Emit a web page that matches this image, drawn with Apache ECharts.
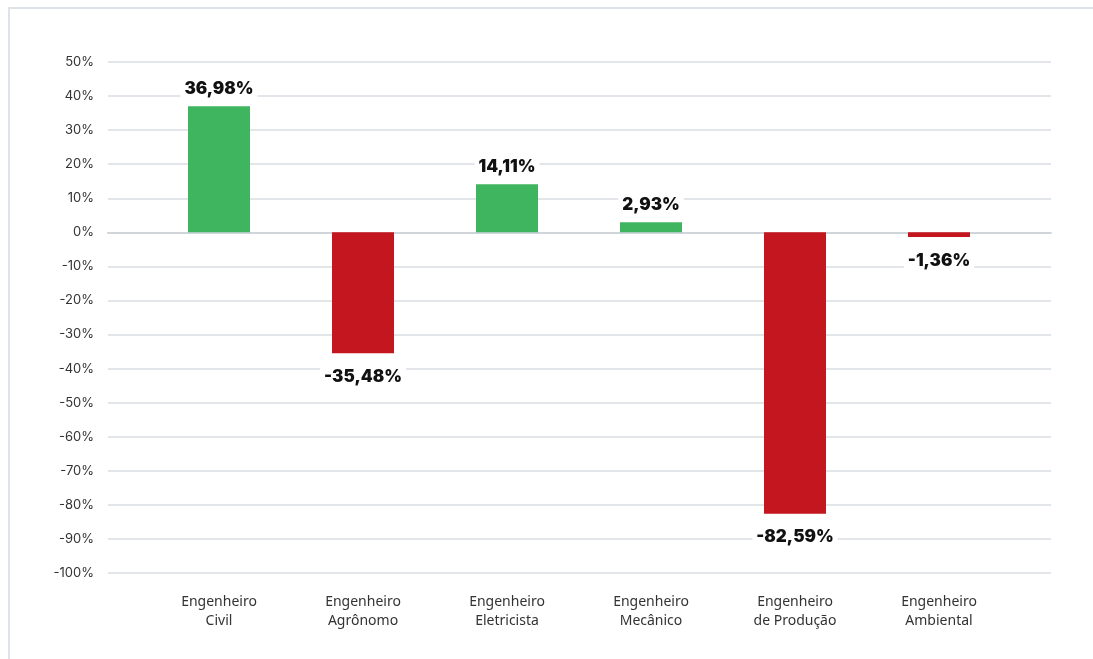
<!DOCTYPE html>
<html>
<head>
<meta charset="utf-8">
<script src="https://cdn.jsdelivr.net/npm/echarts@6/dist/echarts.min.js"></script>
<style>
  html, body { margin: 0; padding: 0; background: #ffffff; }
  #chart { width: 1093px; height: 659px; }
</style>
</head>
<body>
<div id="chart"></div>
<script>
// Variação percentual por profissão de engenharia
const categories = [
  'Engenheiro\nCivil',
  'Engenheiro\nAgrônomo',
  'Engenheiro\nEletricista',
  'Engenheiro\nMecânico',
  'Engenheiro\nde Produção',
  'Engenheiro\nAmbiental'
];
const variation = [36.98, -35.48, 14.11, 2.93, -82.59, -1.36];

const yMin = -100;
const yMax = 50;
const yStep = 10;

const GREEN = '#3fb55f';
const RED = '#c4161e';

const fmtPct = v => v.toFixed(2).replace('.', ',') + '%';

const barData = variation.map(v => ({
  value: v,
  itemStyle: { color: v >= 0 ? GREEN : RED },
  label: { position: v >= 0 ? 'top' : 'bottom', distance: v >= 0 ? 8 : 14 }
}));

const chart = echarts.init(document.getElementById('chart'), null, { renderer: 'canvas' });

chart.setOption({
  animation: false,
  backgroundColor: '#ffffff',
  graphic: [{
    type: 'rect',
    shape: { x: 9, y: 8, width: 1200, height: 800 },
    style: { fill: 'none', stroke: '#dde3e8', lineWidth: 2 },
    silent: true,
    z: -10
  }],
  grid: [
    // full-width grid carrying the value scale and its gridlines
    { left: 108, right: 42, top: 62, bottom: 86 },
    // narrower grid where the category bars sit
    { left: 147, right: 82, top: 62, bottom: 86 }
  ],
  xAxis: [
    {
      gridIndex: 0,
      type: 'value',
      min: 0, max: 1,
      axisLine: { show: true, onZero: true, lineStyle: { color: '#cfd5da', width: 2 } },
      axisTick: { show: false },
      axisLabel: { show: false },
      splitLine: { show: false }
    },
    {
      gridIndex: 1,
      type: 'category',
      data: categories,
      axisLine: { show: false },
      axisTick: { show: false },
      axisLabel: {
        margin: 20,
        color: '#333333',
        fontFamily: 'Noto Sans',
        fontSize: 14,
        lineHeight: 19
      }
    }
  ],
  yAxis: [
    {
      gridIndex: 0,
      type: 'value',
      min: yMin, max: yMax, interval: yStep,
      axisLine: { show: false },
      axisTick: { show: false },
      axisLabel: {
        margin: 14,
        color: '#333333',
        fontFamily: 'Inter',
        fontSize: 13,
        formatter: v => v + '%'
      },
      splitLine: { lineStyle: { color: '#d8dde2', width: 1.5 } }
    },
    {
      gridIndex: 1,
      type: 'value',
      min: yMin, max: yMax, interval: yStep,
      axisLine: { show: false },
      axisTick: { show: false },
      axisLabel: { show: false },
      splitLine: { show: false }
    }
  ],
  series: [{
    type: 'bar',
    xAxisIndex: 1,
    yAxisIndex: 1,
    data: barData,
    barWidth: 62,
    label: {
      show: true,
      color: '#111111',
      fontFamily: 'Inter',
      fontWeight: 900,
      fontSize: 17,
      backgroundColor: '#ffffff',
      padding: [1, 4],
      formatter: p => fmtPct(p.value)
    },
    z: 3
  }]
});
</script>
</body>
</html>
